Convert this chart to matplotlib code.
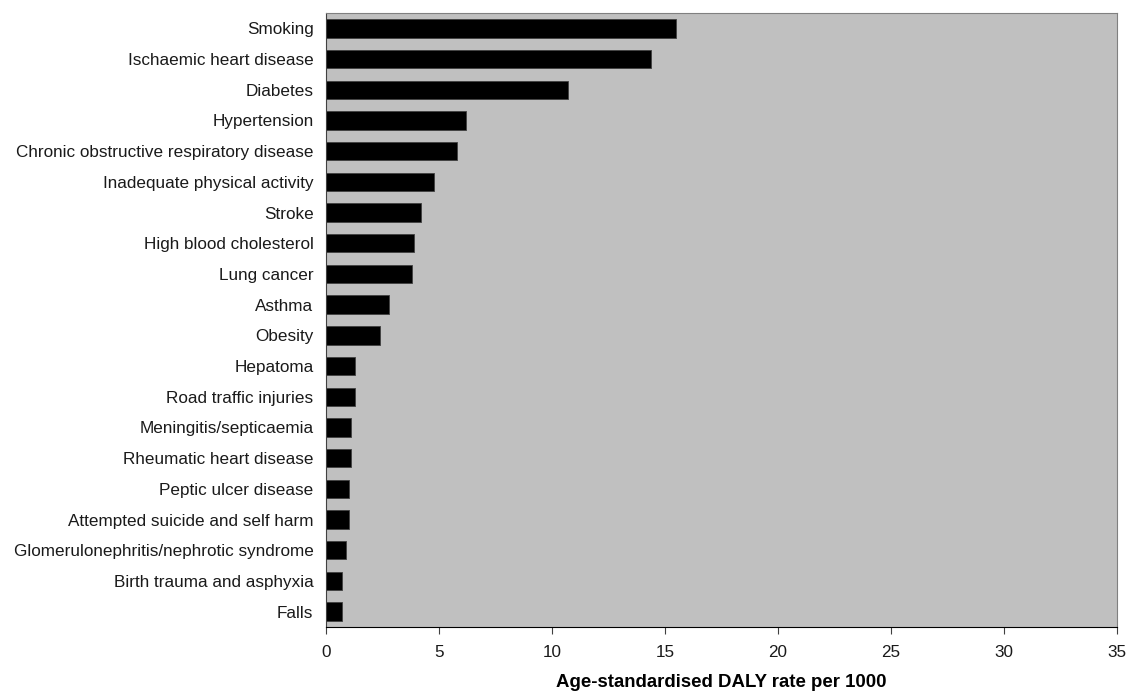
import matplotlib
matplotlib.use('Agg')
import matplotlib.pyplot as plt

# Risk factors / diseases, top to bottom as in the chart
causes = [
    'Smoking',
    'Ischaemic heart disease',
    'Diabetes',
    'Hypertension',
    'Chronic obstructive respiratory disease',
    'Inadequate physical activity',
    'Stroke',
    'High blood cholesterol',
    'Lung cancer',
    'Asthma',
    'Obesity',
    'Hepatoma',
    'Road traffic injuries',
    'Meningitis/septicaemia',
    'Rheumatic heart disease',
    'Peptic ulcer disease',
    'Attempted suicide and self harm',
    'Glomerulonephritis/nephrotic syndrome',
    'Birth trauma and asphyxia',
    'Falls',
]

# Age-standardised DALY rate per 1000
daly_rate = [15.5, 14.4, 10.7, 6.2, 5.8, 4.8, 4.2, 3.9, 3.8, 2.8,
             2.4, 1.3, 1.3, 1.1, 1.1, 1.0, 1.0, 0.9, 0.7, 0.7]

x_ticks = [0, 5, 10, 15, 20, 25, 30, 35]

plt.rcParams['font.family'] = ['Liberation Sans', 'DejaVu Sans']

fig = plt.figure(figsize=(11.27, 6.93), dpi=100)
ax = fig.add_axes([326 / 1127, 1 - 627 / 693, (1117 - 326) / 1127, (627 - 13) / 693])

ypos = list(range(len(causes)))
ax.barh(ypos, daly_rate, height=0.6, color='black', edgecolor='#404040', linewidth=0.6)

ax.set_facecolor('#C0C0C0')
ax.set_xlim(0, 35)
ax.set_ylim(len(causes) - 0.5, -0.5)
ax.set_yticks(ypos)
ax.set_yticklabels(causes, fontsize=12.3, color='#1a1a1a')
ax.set_xticks(x_ticks)
ax.set_xticklabels([str(t) for t in x_ticks], fontsize=12.3, color='#1a1a1a')
ax.tick_params(axis='y', length=0, pad=9)
ax.tick_params(axis='x', length=5, direction='out', color='#404040', pad=8)

for side in ['top', 'right']:
    ax.spines[side].set_color('#808080')
ax.spines['left'].set_color('#404040')
ax.spines['bottom'].set_color('black')

ax.set_xlabel('Age-standardised DALY rate per 1000', fontsize=13.4, fontweight='bold', labelpad=10)

fig.savefig('out.png', dpi=100)
